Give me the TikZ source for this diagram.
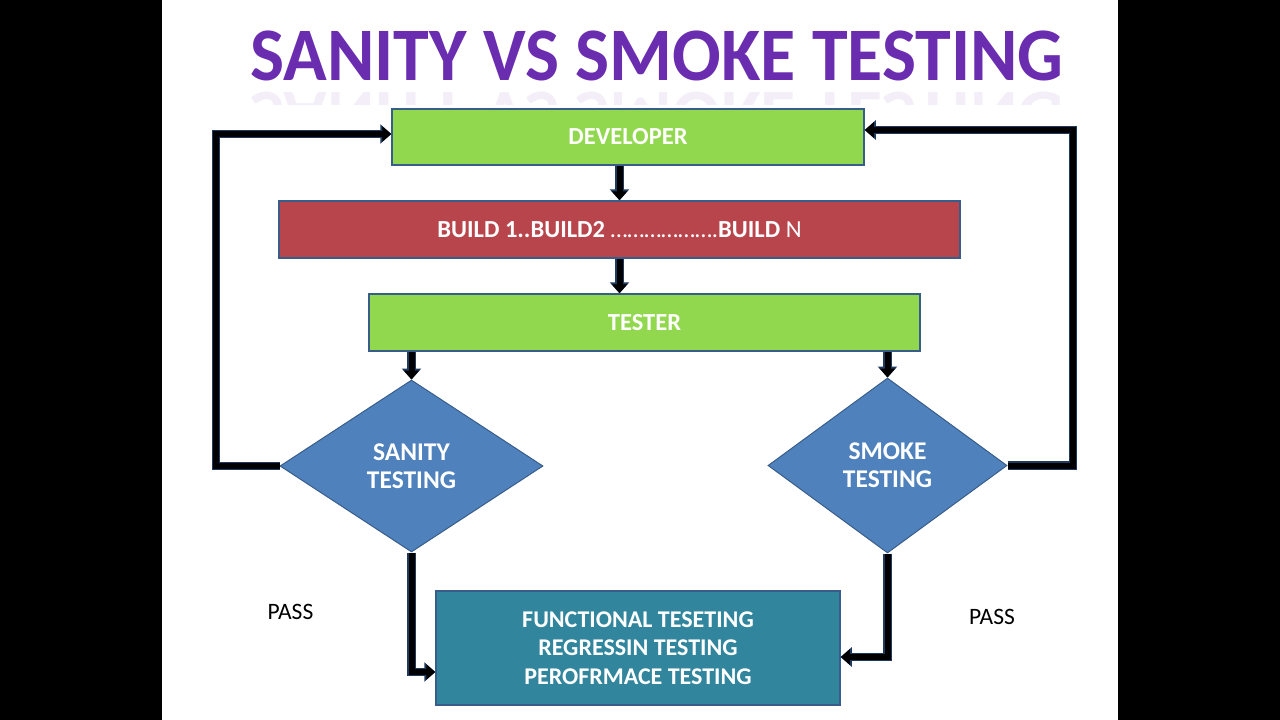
\documentclass[tikz,border=0pt]{standalone}
\usepackage{fontspec}
\setmainfont{Carlito}
\usetikzlibrary{shapes.geometric,arrows.meta}
\definecolor{boxgreen}{HTML}{92D84F}
\definecolor{boxred}{HTML}{B8454B}
\definecolor{boxteal}{HTML}{31859C}
\definecolor{diablue}{HTML}{4F81BD}
\definecolor{edgeblue}{HTML}{385D8A}
\definecolor{navy}{HTML}{1F3A5F}
\definecolor{titlepurple}{HTML}{6B2DB0}
\tikzset{
  box/.style={draw=edgeblue, line width=1.5pt, inner sep=0pt, text=white, font=\bfseries\fontsize{24.5}{28}\selectfont},
  dia/.style={diamond, draw=edgeblue, line width=1pt, fill=diablue, inner sep=0pt, text=white, align=center, font=\bfseries\fontsize{25.5}{28}\selectfont},
  conn/.style={line width=6pt, black, -{Triangle[width=15pt,length=9pt]},
    preaction={draw=navy, line width=8.5pt, -{Triangle[width=19pt,length=11pt]}}},
  plain/.style={font=\fontsize{23.5}{26}\selectfont, text=black}
}
\begin{document}
\begin{tikzpicture}[x=1pt,y=-1pt]
\useasboundingbox (0,0) rectangle (1280,720);
\fill[black] (0,0) rectangle (162,720);
\fill[black] (1118,0) rectangle (1280,720);
\fill[white] (162,0) rectangle (1118,720);
% title
\node[text=titlepurple, font=\bfseries\fontsize{72}{80}\selectfont, inner sep=0pt, yscale=1.05] (title) at (657,56) {SANITY VS SMOKE TESTING};
\begin{scope}
\clip (162,84) rectangle (1118,104);
\node[text=titlepurple, opacity=0.08, yscale=-1, font=\bfseries\fontsize{72}{80}\selectfont, inner sep=0pt] (titlerefl) at (657,116) {SANITY VS SMOKE TESTING};
\end{scope}
% boxes
\node[box, fill=boxgreen, minimum width=472pt, minimum height=56pt] (dev) at (628,137) {DEVELOPER};
\node[box, fill=boxred, minimum width=681pt, minimum height=57pt] (build) at (619.5,229.5) {BUILD 1..BUILD2 {\mdseries ……………….}BUILD {\mdseries N}};
\node[box, fill=boxgreen, minimum width=551pt, minimum height=57pt] (tester) at (644.5,322.5) {TESTER};
\node[dia, minimum width=263pt, minimum height=172pt] (san) at (411.5,466) {SANITY\\TESTING};
\node[dia, minimum width=239pt, minimum height=175pt] (smk) at (887.5,465.5) {SMOKE\\TESTING};
\node[box, fill=boxteal, minimum width=404pt, minimum height=114pt, align=center, font=\bfseries\fontsize{24}{28.5}\selectfont] (func) at (638,648) {FUNCTIONAL TESETING\\REGRESSIN TESTING\\PEROFRMACE TESTING};
\node[plain] (pass1) at (290.5,612) {PASS};
\node[plain] (pass2) at (992,617) {PASS};
% coordinates
\coordinate (lc) at (216,134);
\coordinate (rc) at (1073,130);
\coordinate (bl) at (411.5,672);
\coordinate (br) at (887.5,657);
% connectors
\draw[conn] (dev.south -| build.north) -- (build.north);
\draw[conn] (build.south) -- (build.south |- tester.north);
\draw[conn] (tester.south -| san.north) -- (san.north);
\draw[conn] (tester.south -| smk.north) -- (smk.north);
\draw[conn] (san.west) -| (lc) -- (lc -| dev.west);
\draw[conn] (smk.east) -| (rc) -- (rc -| dev.east);
\draw[conn] (san.south) -- (bl) -- (bl -| func.west);
\draw[conn] (smk.south) -- (br) -- (br -| func.east);
\end{tikzpicture}
\end{document}
